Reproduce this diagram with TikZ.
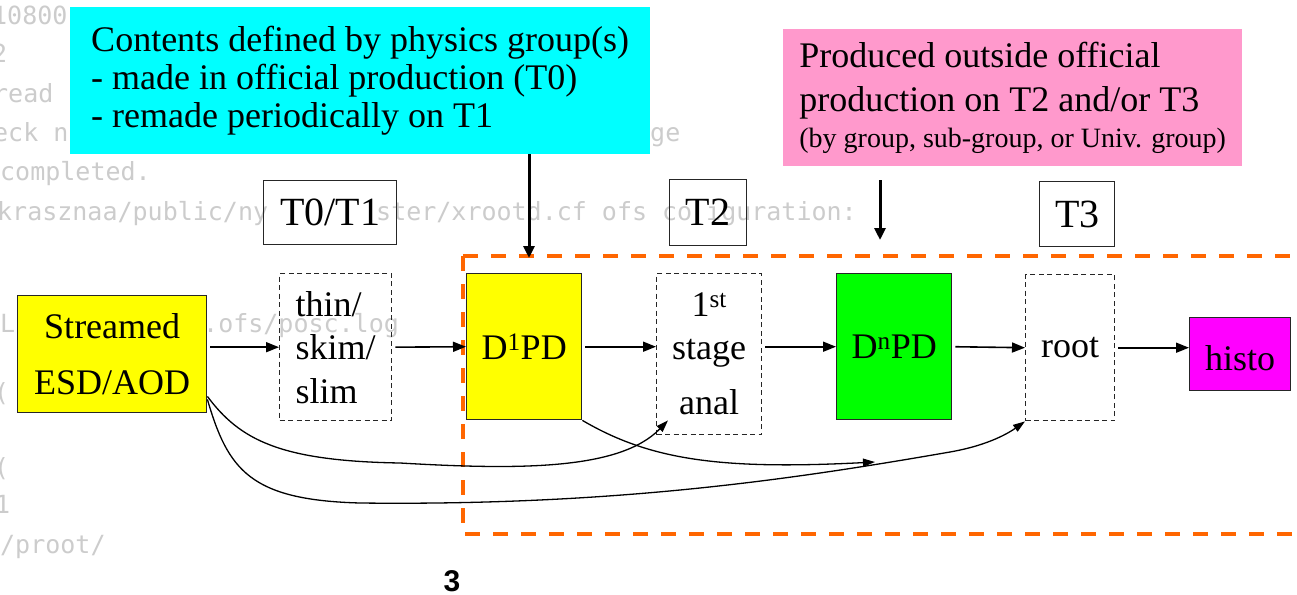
\documentclass[tikz,border=0pt]{standalone}
\usepackage{fontspec}
\setmainfont{Liberation Serif}
\newfontfamily\bgmono{DejaVu Sans Mono}
\newfontfamily\pagesans{Liberation Sans}
\usetikzlibrary{arrows.meta,calc}
\definecolor{cyanfill}{RGB}{0,255,255}
\definecolor{pinkfill}{RGB}{255,153,204}
\definecolor{yellowfill}{RGB}{255,255,0}
\definecolor{greenfill}{RGB}{0,255,0}
\definecolor{magfill}{RGB}{255,0,255}
\definecolor{orangeline}{RGB}{255,102,0}
\definecolor{bggray}{RGB}{204,204,204}
\tikzset{
  box/.style={draw=black!85, line width=1.4pt, inner sep=0pt, anchor=north west,
    align=center, font=\fontsize{36}{43}\selectfont},
  dbox/.style={box, dash pattern=on 5pt off 3.5pt},
  tierbox/.style={box, font=\fontsize{40}{40}\selectfont},
  note/.style={inner sep=0pt, anchor=north west, draw=none},
  flow/.style={-{Triangle[length=13pt,width=10pt]}, line width=1.6pt, shorten <=3pt},
  bigflow/.style={-{Triangle[length=12pt,width=11pt]}, line width=3pt},
  curve/.style={-{Triangle[length=12pt,width=8pt]}, line width=1.3pt},
  bgtxt/.style={anchor=base west, inner sep=0pt, text=bggray, font=\bgmono\fontsize{25}{25}\selectfont},
}
\begin{document}
\begin{tikzpicture}[x=1pt,y=-1pt]
\useasboundingbox (0,0) rectangle (1297,594);
\fill[white] (0,0) rectangle (1297,594);

% faint background terminal text
\node[bgtxt] (bg1) at (-8,25) {10800};
\node[bgtxt] (bg2) at (-8,63) {2};
\node[bgtxt] (bg3) at (-7,102) {read};
\node[bgtxt] (bg4) at (-7,141) {eck n};
\node[bgtxt] (bg4b) at (650,141) {ge};
\node[bgtxt] (bg5) at (0,180) {completed.};
\node[bgtxt] (bg6) at (-3,220) {krasznaa/public/ny};
\node[bgtxt] (bg6b) at (376,220) {ster/xrootd.cf ofs co};
\node[bgtxt] (bg6c) at (706,220) {iguration:};
\node[bgtxt] (bg7) at (0,332) {L};
\node[bgtxt] (bg7b) at (203,332) {.ofs/posc.log};
\node[bgtxt] (bg8) at (-6,401) {(};
\node[bgtxt] (bg9) at (-6,476) {(};
\node[bgtxt] (bg10) at (-5,513) {1};
\node[bgtxt] (bg11) at (0,553) {/proot/};

% orange dashed region
\draw[orangeline, line width=4pt, dash pattern=on 15pt off 13pt] (463,256) -- (1300,256);
\draw[orangeline, line width=4pt, dash pattern=on 15pt off 13pt] (463,256) -- (463,534) -- (1300,534);

% notes
\node[note, fill=cyanfill, align=left, minimum width=580, minimum height=147,
  font=\fontsize{36}{38}\selectfont] (cy) at (70,7)
  {Contents defined by physics group(s)\\- made in official production (T0)\\- remade periodically on T1};
\node[note, fill=pinkfill, align=left, minimum width=459, minimum height=137,
  font=\fontsize{36}{44}\selectfont] (pk) at (783,29)
  {Produced outside official\\production on T2 and/or T3\\[-8pt]{\fontsize{28}{36}\selectfont (by group, sub-group, or Univ. group)}};

% tier labels
\node[tierbox, minimum width=133, minimum height=64] (t01) at (263,180) {T0/T1};
\node[tierbox, minimum width=77, minimum height=66] (t2) at (669,179) {T2};
\node[tierbox, minimum width=75, minimum height=65] (t3) at (1039,181) {T3};

% data boxes
\node[box, fill=yellowfill, minimum width=189, minimum height=117,
  font=\fontsize{36}{56}\selectfont] (s) at (17,295) {Streamed\\ESD/AOD};
\node[dbox, align=left, minimum width=112, minimum height=147,
  font=\fontsize{36}{43.5}\selectfont] (t) at (279,273) {thin/\\skim/\\slim};
\node[box, fill=yellowfill, minimum width=115, minimum height=146] (d1) at (466,273) {D\textsuperscript{1}PD};
\node[dbox, minimum width=105, minimum height=161] (st) at (656,273) {1\textsuperscript{st}\\stage\\[12pt]anal};
\node[box, fill=greenfill, minimum width=115, minimum height=146] (dn) at (836,273) {D\textsuperscript{n}PD};
\node[dbox, minimum width=89, minimum height=146] (rt) at (1025,274) {root};
\node[box, fill=magfill, minimum width=101, minimum height=73, text height=33pt] (hi) at (1189,317) {histo};

% main flow
\draw[flow] (s.east |- t.west) -- (t.west);
\draw[flow] (t.east) -- (d1.west);
\draw[flow] (d1.east) -- (d1.east -| st.west);
\draw[flow] (st.east |- dn.west) -- (dn.west);
\draw[flow] (dn.east) -- (rt.west);
\draw[flow] (rt.east) -- (rt.east -| hi.west);

% note arrows
\coordinate (cyend) at (529,258);
\draw[bigflow] (cyend |- cy.south) -- (cyend);
\coordinate (pkend) at (880,240);
\draw[bigflow, shorten <=14pt] (pkend |- pk.south) -- (pkend);

% bypass curves
\draw[curve] ([yshift=17pt]s.south east) .. controls (240,440) and (280,461) .. (400,463)
  .. controls (520,470) and (620,470) .. ([xshift=12pt,yshift=15pt]st.south west);
\draw[curve] ([yshift=14pt]s.south east) .. controls (228,470) and (250,500) .. (360,503)
  .. controls (620,506) and (800,478) .. (950,452)
  .. controls (990,445) and (1010,432) .. (rt.south west);
\coordinate (c3end) at (875,462);
\draw[curve] (d1.south east) .. controls (650,460) and (720,470) .. (c3end);

% page number
\node[anchor=base, inner sep=0pt, font=\pagesans\bfseries\fontsize{30}{30}\selectfont] (pg) at (452,591) {3};
\end{tikzpicture}
\end{document}
